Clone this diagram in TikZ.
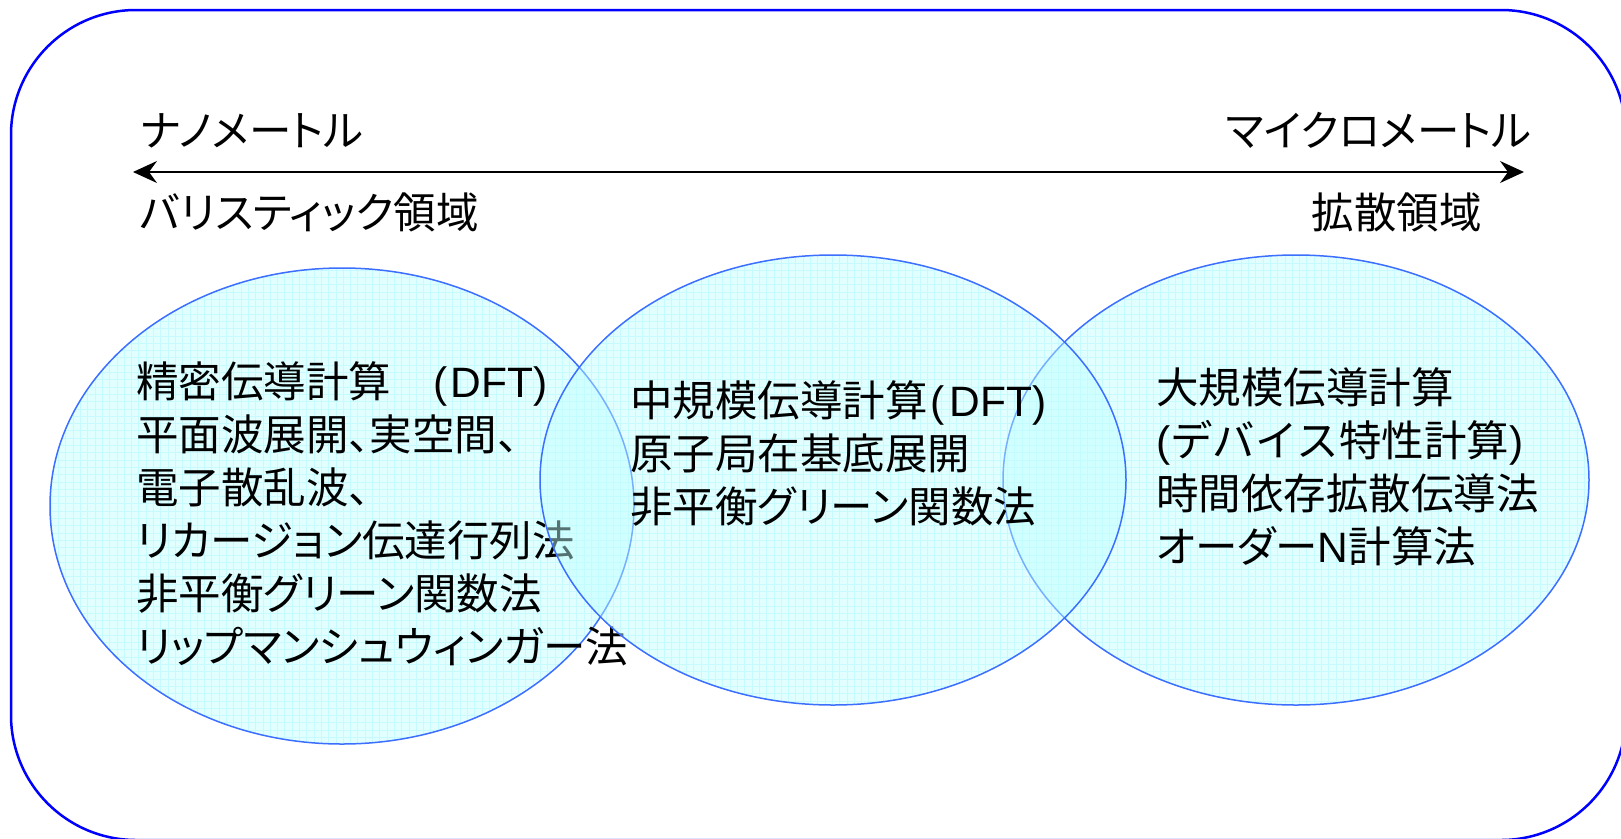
\documentclass[tikz,border=0pt]{standalone}
\usepackage{fontspec}
\setmainfont{Noto Sans CJK JP}[RawFeature={+palt}]
\newfontfamily\latn{Liberation Sans}
\newfontfamily\jfw{Noto Sans CJK JP}
\usetikzlibrary{arrows.meta}
\definecolor{frameblue}{RGB}{0,0,255}
\definecolor{edgeblue}{RGB}{60,110,255}
\definecolor{fillcyan}{RGB}{190,255,255}
\definecolor{gridcyan}{RGB}{208,246,255}
\tikzset{
  lbl/.style={inner sep=0pt, font=\fontsize{42.5}{53}\selectfont, anchor=base west},
  lblr/.style={lbl, anchor=base east},
  venn/.style={draw=edgeblue, line width=1.5pt, fill=fillcyan, fill opacity=0.45},
  scalearrow/.style={line width=1.4pt, {Stealth[length=24pt,width=22pt,inset=8pt]}-{Stealth[length=24pt,width=22pt,inset=8pt]}},
}
\begin{document}
\begin{tikzpicture}[x=1pt,y=-1pt]
\useasboundingbox (0,0) rectangle (1621,838);
\clip (0,0) rectangle (1621,838);
\fill[white] (0,0) rectangle (1621,838);
\draw[frameblue, line width=2.5pt, rounded corners=125pt] (11,10) rectangle (1626,840);

\coordinate (cL) at (342,506);
\coordinate (cM) at (833,480);
\coordinate (cR) at (1296,480);

% faint grid inside the ellipses
\begin{scope}
  \clip (cL) ellipse [x radius=292, y radius=238]
        (cM) ellipse [x radius=293, y radius=225]
        (cR) ellipse [x radius=293, y radius=225];
  \draw[gridcyan, line width=0.5pt, step=7.3pt] (0,0) grid (1621,838);
\end{scope}

% left ellipse and its text
\path[venn] (cL) ellipse [x radius=292, y radius=238];
\node[lbl] (L1) at (136,397) {精密伝導計算　{\latn (\hspace{3pt}DFT)}};
\node[lbl] (L2) at (136,450) {平面波展開、実空間、};
\node[lbl] (L3) at (136,503) {電子散乱波、};
\node[lbl] (L4) at (136,556) {リカージョン伝達行列法};
\node[lbl] (L5) at (136,609) {非平衡グリーン関数法};
\node[lbl] (L6) at (136,662) {リップマンシュウィンガー法};

% right ellipse
\path[venn] (cR) ellipse [x radius=293, y radius=225];
% middle ellipse on top
\path[venn] (cM) ellipse [x radius=293, y radius=225];

\node[lbl] (M1) at (630,416) {中規模伝導計算{\latn \hspace{3pt}(\hspace{5pt}DFT)}};
\node[lbl] (M2) at (630,469) {原子局在基底展開};
\node[lbl] (M3) at (630,522) {非平衡グリーン関数法};

\node[lbl] (R1) at (1156,403) {大規模伝導計算};
\node[lbl] (R2) at (1156,456) {{\latn (}{\jfw デバイス}特性計算{\latn )}};
\node[lbl] (R3) at (1156,509) {時間依存拡散伝導法};
\node[lbl] (R4) at (1156,562) {オーダー{\latn N}計算法};

% scale labels and arrow
\node[lbl] (nano) at (140,146) {ナノメートル};
\node[lblr] (micro) at (1532,146) {マイクロメートル};
\coordinate (aL) at (133,172);
\coordinate (aR) at (1524,172);
\draw[scalearrow] (aL) -- (aR);
\node[lbl] (ballis) at (140,228) {バリスティック領域};
\node[lblr] (diff) at (1482,228) {拡散領域};
\end{tikzpicture}
\end{document}
